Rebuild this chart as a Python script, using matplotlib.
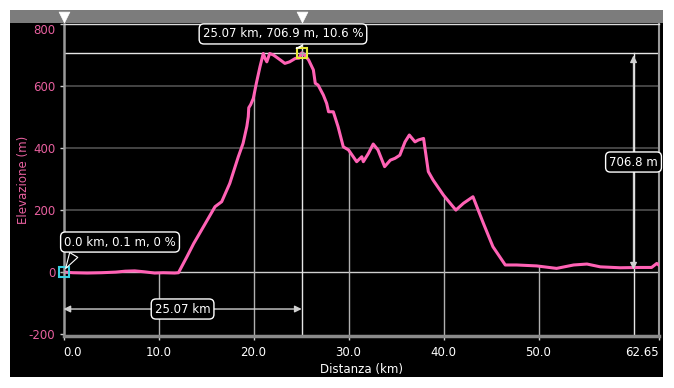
import numpy as np
import matplotlib
matplotlib.use("Agg")
import matplotlib.pyplot as plt
import matplotlib.transforms as mtransforms
from matplotlib.patches import Rectangle

# elevation profile (km, m)
dist = [0.0, 1.0, 2.5, 4.0, 5.5, 6.5, 7.5, 8.5, 9.6, 10.5, 11.7, 12.1,
        13.0, 13.7, 14.8, 15.95, 16.65, 17.5, 18.4, 18.9, 19.3, 19.45,
        19.5, 19.7, 19.98, 20.3, 20.68, 21.03, 21.2, 21.4, 21.7, 22.1,
        22.6, 23.0, 23.3, 23.8, 24.4, 24.8, 25.07, 25.24, 25.8, 26.3,
        26.5, 26.8, 27.35, 27.7, 27.9, 28.4, 28.9, 29.45, 30.0, 30.86,
        31.4, 31.56, 32.1, 32.6, 33.1, 33.8, 34.4, 34.9, 35.4, 35.95,
        36.4, 37.0, 37.35, 37.9, 38.4, 38.9, 40.0, 41.3, 42.1, 43.1,
        44.2, 45.2, 46.5, 47.7, 49.8, 51.9, 53.7, 55.1, 56.5, 58.6,
        60.7, 61.9, 62.45, 62.65]
elev = [0.1, -2, -3, -2, 0, 3, 4, 1, -3, -2, -3, -2,
        50, 92, 150, 211, 227, 286, 372, 415, 470, 501,
        530, 540, 560, 609, 662, 705, 690, 678, 705, 700,
        689, 680, 673, 678, 689, 690, 706.9, 705, 684, 652,
        609, 603, 571, 544, 517, 517, 469, 404, 394, 356,
        372, 356, 383, 413, 394, 340, 361, 367, 377, 420,
        442, 420, 426, 431, 324, 297, 248, 200, 222, 243,
        157, 82, 23, 23, 20, 12, 23, 26, 17, 14,
        15, 15, 28, 23]

x_ticks = [0, 10, 20, 30, 40, 50, 62.65]
x_labels = ["0.0", "10.0", "20.0", "30.0", "40.0", "50.0", "62.65"]
y_ticks = [-200, 0, 200, 400, 600, 800]

start_pt = (0.0, 0.1)
peak_pt = (25.07, 706.9)
start_label = "0.0 km, 0.1 m, 0 %"
peak_label = "25.07 km, 706.9 m, 10.6 %"
dist_label = "25.07 km"
climb_label = "706.8 m"
climb_x = 60.0

pink = "#ff62b5"
tick_pink = "#e8609f"

fig = plt.figure(figsize=(6.74, 3.88), dpi=100, facecolor="white")
# black panel and grey bar on top
fig.patches.append(Rectangle((10 / 674, 11 / 388), 653 / 674, 367 / 388,
                             transform=fig.transFigure, facecolor="black",
                             edgecolor="none", zorder=-2))
fig.patches.append(Rectangle((10 / 674, 365 / 388), 653 / 674, 13 / 388,
                             transform=fig.transFigure, facecolor="#7c7c7c",
                             edgecolor="none", zorder=-1))

ax = fig.add_axes([63.5 / 674, 52 / 388, 595.2 / 674, 312 / 388])
ax.set_facecolor("black")
ax.set_xlim(0, 62.65)
ax.set_ylim(-206, 800)

# horizontal grid
for yv in [200, 400, 600]:
    ax.axhline(yv, color="#505050", lw=1.2, zorder=1)
ax.axhline(0, color="#cfcfcf", lw=1, zorder=1)

# vertical grid only below the profile
area = ax.fill_between(dist, elev, -250, color="none", lw=0)
vl = ax.vlines([10, 20, 30, 40, 50], -250, 900, color="#b0b0b0", lw=1, zorder=1)
vl.set_clip_path(area.get_paths()[0], ax.transData)

# measurement lines
ax.axhline(peak_pt[1], color="#e6e6e6", lw=1, zorder=2)
ax.axvline(peak_pt[0], color="#e6e6e6", lw=1, zorder=2)
ax.axvline(climb_x, color="#e6e6e6", lw=1, ymax=(peak_pt[1] + 206) / 1006, zorder=2)

ax.plot(dist, elev, color=pink, lw=2.2, zorder=4, solid_joinstyle="round")

# markers
ax.plot(*peak_pt, marker="s", ms=7, mfc="none", mec="#e8e838", mew=1.5, zorder=6)
ax.plot(*peak_pt, marker="+", ms=5, color="#aaaaaa", mew=0.8, zorder=6)
ax.plot(*start_pt, marker="s", ms=7, mfc="none", mec="#38d0e0", mew=1.5, zorder=6, clip_on=False)
ax.plot(*start_pt, marker="+", ms=5, color="#aaaaaa", mew=0.8, zorder=6, clip_on=False)

# slider triangles on the grey bar
trans = mtransforms.blended_transform_factory(ax.transData, ax.transAxes)
ax.scatter([start_pt[0], peak_pt[0]], [1.024, 1.024], marker="v", s=60,
           facecolors="white", edgecolors="white", linewidths=0.5,
           transform=trans, clip_on=False, zorder=9)

box = dict(boxstyle="round,pad=0.3,rounding_size=0.4", fc="black", ec="white", lw=1)
ax.annotate(peak_label, xy=peak_pt, xytext=(23.1, 768), color="white", fontsize=8.5,
            ha="center", va="center", bbox=box, zorder=8, annotation_clip=False,
            arrowprops=dict(arrowstyle="wedge,tail_width=0.5", fc="black", ec="white",
                            lw=0.8, shrinkB=4, relpos=(0.58, 0.0)))
ax.annotate(start_label, xy=start_pt, xytext=(5.95, 97), color="white", fontsize=8.5,
            ha="center", va="center", bbox=box, zorder=8, annotation_clip=False,
            arrowprops=dict(arrowstyle="wedge,tail_width=0.8", fc="black", ec="white",
                            lw=0.8, shrinkB=3, relpos=(0.12, 0.0)))

# distance arrow
mid_y = -119
ax.annotate("", xy=(0, mid_y), xytext=(peak_pt[0], mid_y),
            arrowprops=dict(arrowstyle="<|-|>", color="#d0d0d0", lw=1,
                            mutation_scale=10, shrinkA=0, shrinkB=0), zorder=5)
ax.text(peak_pt[0] / 2, mid_y, dist_label, color="white", fontsize=8.5,
        ha="center", va="center", bbox=box, zorder=8)

# climb arrow
ax.annotate("", xy=(climb_x, start_pt[1] + 8), xytext=(climb_x, peak_pt[1] - 8),
            arrowprops=dict(arrowstyle="<|-|>", color="#d0d0d0", lw=1,
                            mutation_scale=10, shrinkA=0, shrinkB=0), zorder=5)
ax.text(climb_x, 355, climb_label, color="white", fontsize=8.5,
        ha="center", va="center", bbox=box, zorder=8)

# axes styling
for side, c, w in [("left", "#9a9a9a", 1.8), ("bottom", "#8a8a8a", 2.5),
                   ("right", "#9a9a9a", 1.5), ("top", "#dcdcdc", 1.0)]:
    ax.spines[side].set_color(c)
    ax.spines[side].set_linewidth(w)

ax.set_xticks(x_ticks)
ax.set_xticklabels(x_labels)
ax.set_yticks(y_ticks)
ax.set_yticklabels([str(v) for v in y_ticks])
ax.tick_params(axis="x", colors="#cccccc", labelcolor="white", labelsize=8.5,
               length=3, width=1, pad=4)
ax.tick_params(axis="y", colors="#cccccc", labelcolor=tick_pink, labelsize=8.5,
               length=3, width=1, pad=3)
xl = ax.get_xticklabels()
xl[0].set_ha("left")
xl[-1].set_ha("right")
ax.get_yticklabels()[-1].set_va("top")

ax.set_xlabel("Distanza (km)", color="white", fontsize=8.5, labelpad=3)
ax.set_ylabel("Elevazione (m)", color=tick_pink, fontsize=8.5, labelpad=-1)

fig.savefig("out.png", dpi=100, facecolor="white")
